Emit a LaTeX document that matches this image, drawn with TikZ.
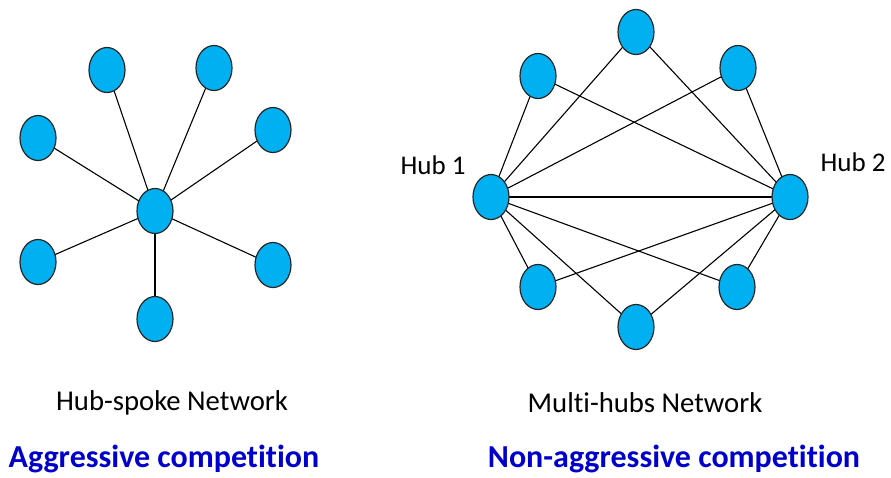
\documentclass[tikz,border=0pt]{standalone}
\usepackage{fontspec}
\setmainfont{Carlito}[Ligatures=NoCommon]
\usetikzlibrary{shapes.geometric,backgrounds}
\definecolor{nodefill}{RGB}{0,176,240}
\definecolor{capblue}{RGB}{0,0,204}
\tikzset{
  vertex/.style={ellipse, draw=black!85, line width=1.2pt, fill=nodefill,
    minimum width=36pt, minimum height=45pt, inner sep=0pt},
  link/.style={line width=1.1pt, black},
  caption/.style={font=\fontsize{28.7}{32}\selectfont, text=black},
  verdict/.style={font=\fontsize{32}{36}\selectfont\bfseries, text=capblue},
  hublabel/.style={font=\fontsize{27}{30}\selectfont, text=black}
}
\begin{document}
\begin{tikzpicture}[x=1pt,y=-1pt]
\useasboundingbox (0,0) rectangle (891,477);

% Hub-spoke network
\node[vertex] (c)  at (155,211) {};
\node[vertex] (s1) at (107,70)  {};
\node[vertex] (s2) at (214,68)  {};
\node[vertex] (s3) at (38,138)  {};
\node[vertex] (s4) at (273,130) {};
\node[vertex] (s5) at (38,262)  {};
\node[vertex] (s6) at (273,265) {};
\node[vertex] (s7) at (155,319) {};

% Multi-hubs network
\node[vertex] (h1) at (491,197) {};
\node[vertex] (h2) at (790,197) {};
\node[vertex] (a)  at (538,76)  {};
\node[vertex] (b)  at (636,32)  {};
\node[vertex] (d)  at (738,68)  {};
\node[vertex] (e)  at (538,287) {};
\node[vertex] (f)  at (636,327) {};
\node[vertex] (g)  at (737,287) {};

\begin{pgfonlayer}{background}
  \foreach \s in {s1,s2,s3,s4,s5,s6,s7}
    \draw[link] (c.center) -- (\s.center);
  \foreach \h in {h1,h2}
    \foreach \s in {a,b,d,e,f,g}
      \draw[link] (\h.center) -- (\s.center);
  \draw[link] (h1.center) -- (h2.center);
\end{pgfonlayer}

\node[hublabel] (l1) at (433,165) {Hub 1};
\node[hublabel] (l2) at (853,162) {Hub 2};

% Captions
\node[caption] (t1) at (172,403) {Hub-spoke Network};
\node[caption] (t2) at (645,403) {Multi-hubs Network};
\node[verdict] (v1) at (164,459) {Aggressive competition};
\node[verdict] (v2) at (674,459) {Non-aggressive competition};
\end{tikzpicture}
\end{document}
